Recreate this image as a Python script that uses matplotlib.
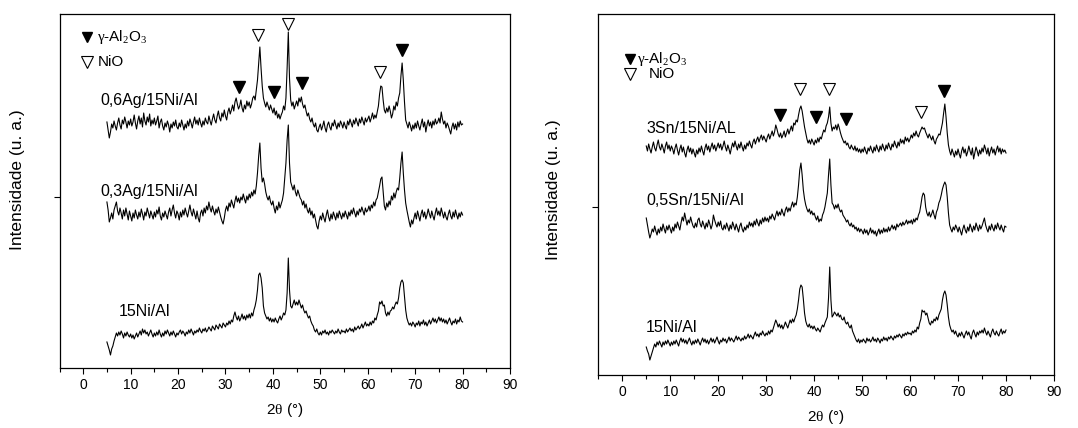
import numpy as np
import matplotlib
matplotlib.use("Agg")
import matplotlib.pyplot as plt
from matplotlib.ticker import MultipleLocator

plt.rcParams['font.family'] = ['Liberation Sans', 'DejaVu Sans']
plt.rcParams['mathtext.fontset'] = 'custom'
plt.rcParams['mathtext.rm'] = 'Liberation Serif'
plt.rcParams['mathtext.it'] = 'Liberation Serif:italic'

# 2theta grid shared by all patterns (degrees), 0.25 deg step
two_theta = np.arange(5.0, 80.001, 0.25)

# left panel: Ag promoted samples (intensity, arbitrary units incl. offset)
ag06 = [246, 238, 230, 236, 244, 240, 247, 242, 238, 245, 250, 243, 239, 248, 244, 251, 246, 240, 247, 243,
        249, 242, 246, 253, 245, 239, 247, 252, 244, 250, 241, 255, 247, 243, 251, 246, 254, 242, 248, 244,
        250, 243, 247, 252, 240, 246, 249, 242, 238, 245, 241, 247, 243, 236, 244, 240, 246, 242, 248, 241,
        239, 245, 241, 248, 243, 238, 244, 240, 247, 242, 249, 245, 240, 246, 251, 244, 248, 243, 250, 245,
        241, 247, 243, 250, 246, 244, 252, 247, 243, 249, 254, 248, 245, 252, 257, 250, 247, 255, 251, 258,
        252, 248, 256, 260, 254, 258, 263, 257, 266, 270, 264, 259, 262, 268, 260, 256, 263, 259, 267, 262,
        266, 260, 264, 270, 272, 268, 278, 288, 305, 321, 300, 282, 270, 265, 261, 266, 262, 258, 263, 259,
        255, 260, 253, 257, 250, 254, 249, 253, 256, 262, 258, 270, 300, 336, 290, 268, 262, 266, 259, 263,
        267, 262, 270, 266, 271, 264, 260, 263, 257, 252, 255, 249, 246, 250, 244, 241, 245, 238, 236, 241,
        244, 238, 242, 247, 240, 236, 243, 246, 241, 238, 245, 242, 248, 243, 239, 245, 241, 247, 244, 240,
        246, 242, 239, 247, 243, 249, 245, 241, 248, 244, 250, 246, 242, 249, 245, 251, 247, 243, 250, 246,
        249, 252, 246, 250, 255, 249, 253, 250, 256, 262, 274, 282, 281, 268, 258, 255, 260, 256, 262, 257,
        250, 254, 262, 258, 266, 262, 270, 275, 292, 305, 288, 266, 248, 244, 240, 246, 242, 237, 243, 239,
        245, 240, 247, 242, 238, 244, 249, 241, 246, 236, 243, 248, 242, 246, 240, 247, 243, 249, 244, 246,
        250, 245, 256, 249, 244, 247, 240, 245, 242, 238, 234, 241, 245, 239, 244, 238, 246, 241, 247, 243,
        244]
ag03 = [166, 158, 146, 150, 155, 149, 158, 162, 166, 157, 153, 160, 155, 149, 158, 152, 160, 154, 148, 157,
        152, 147, 155, 150, 158, 153, 149, 156, 151, 159, 154, 148, 156, 152, 160, 155, 150, 157, 153, 149,
        156, 151, 158, 154, 161, 152, 148, 155, 151, 157, 153, 149, 156, 160, 152, 158, 163, 155, 150, 157,
        154, 148, 156, 151, 158, 153, 160, 155, 151, 157, 163, 156, 152, 159, 154, 149, 157, 150, 146, 155,
        158, 152, 160, 155, 162, 158, 166, 160, 156, 162, 157, 153, 159, 155, 161, 156, 151, 147, 144, 150,
        158, 162, 157, 165, 161, 168, 164, 160, 167, 172, 166, 170, 165, 171, 168, 174, 169, 165, 172, 168,
        174, 170, 176, 172, 178, 174, 182, 195, 212, 225, 200, 186, 190, 184, 176, 171, 168, 172, 166, 163,
        167, 160, 155, 162, 158, 166, 160, 164, 168, 175, 190, 205, 228, 243, 205, 186, 182, 178, 183, 176,
        172, 178, 174, 170, 168, 163, 167, 160, 164, 158, 155, 160, 153, 157, 150, 154, 148, 142, 139, 147,
        152, 148, 155, 150, 146, 153, 158, 151, 147, 154, 149, 156, 152, 148, 155, 150, 157, 153, 149, 155,
        151, 157, 153, 149, 156, 152, 158, 154, 160, 155, 151, 157, 153, 159, 156, 161, 157, 153, 160, 156,
        158, 162, 157, 163, 160, 166, 162, 168, 170, 176, 182, 189, 191, 176, 162, 158, 165, 161, 167, 163,
        172, 168, 175, 170, 176, 180, 178, 190, 205, 216, 195, 178, 165, 158, 152, 146, 141, 148, 144, 150,
        155, 149, 157, 152, 147, 154, 158, 151, 156, 149, 153, 159, 154, 150, 157, 152, 148, 155, 160, 153,
        157, 152, 160, 155, 150, 156, 151, 148, 154, 158, 152, 149, 156, 151, 158, 153, 149, 155, 151, 156,
        153]
ni_left = [26, 22, 18, 13, 19, 22, 27, 31, 35, 32, 36, 33, 37, 34, 30, 35, 32, 36, 33, 31,
           34, 30, 33, 29, 32, 35, 31, 34, 37, 33, 39, 35, 38, 34, 36, 32, 35, 38, 34, 31,
           35, 32, 36, 33, 38, 34, 31, 35, 32, 37, 34, 38, 35, 32, 36, 33, 37, 34, 31, 35,
           33, 36, 38, 34, 37, 35, 32, 36, 34, 38, 35, 39, 36, 33, 37, 35, 38, 36, 40, 37,
           35, 39, 37, 40, 36, 38, 41, 39, 37, 42, 40, 38, 43, 41, 39, 44, 42, 40, 45, 43,
           41, 45, 43, 47, 44, 48, 46, 52, 56, 51, 48, 52, 47, 50, 54, 49, 52, 48, 53, 50,
           54, 50, 55, 52, 58, 62, 68, 78, 93, 95, 90, 80, 62, 55, 52, 49, 51, 47, 50, 46,
           49, 46, 50, 47, 45, 49, 52, 48, 51, 55, 53, 58, 75, 110, 78, 62, 60, 64, 68, 63,
           66, 63, 68, 64, 60, 63, 58, 55, 57, 53, 50, 52, 47, 44, 42, 38, 36, 39, 35, 33,
           36, 33, 37, 35, 38, 34, 36, 33, 37, 35, 38, 36, 34, 37, 35, 39, 36, 34, 38, 36,
           37, 35, 39, 36, 38, 40, 37, 39, 36, 41, 38, 40, 42, 39, 41, 44, 40, 43, 46, 42,
           44, 42, 46, 43, 47, 45, 50, 48, 53, 57, 66, 64, 67, 62, 63, 55, 52, 56, 53, 57,
           58, 61, 59, 63, 66, 64, 70, 80, 86, 88, 85, 72, 58, 50, 46, 43, 45, 42, 46, 44,
           41, 45, 43, 47, 42, 46, 44, 48, 43, 46, 42, 45, 48, 44, 47, 50, 46, 49, 45, 48,
           51, 47, 50, 46, 49, 45, 48, 44, 47, 50, 46, 43, 47, 45, 49, 44, 48, 46, 51, 47,
           46]

# right panel: Sn promoted samples
sn3 = [229, 224, 231, 226, 222, 228, 233, 227, 224, 230, 235, 228, 225, 231, 227, 222, 229, 233, 226, 230,
       224, 229, 226, 221, 227, 231, 225, 220, 226, 230, 223, 228, 222, 218, 225, 229, 223, 227, 221, 226,
       222, 218, 225, 221, 227, 223, 229, 224, 220, 227, 231, 225, 229, 223, 228, 232, 226, 230, 224, 228,
       232, 227, 231, 225, 229, 234, 228, 224, 230, 226, 221, 227, 232, 228, 234, 229, 225, 231, 227, 233,
       228, 224, 230, 226, 232, 229, 234, 230, 227, 233, 236, 231, 235, 238, 233, 237, 240, 235, 239, 236,
       233, 238, 241, 236, 240, 244, 239, 243, 250, 246, 241, 238, 242, 237, 240, 244, 238, 242, 246, 241,
       245, 249, 244, 252, 250, 255, 253, 260, 266, 269, 264, 256, 248, 242, 236, 232, 235, 231, 236, 233,
       230, 235, 232, 237, 233, 238, 236, 241, 245, 243, 249, 252, 258, 268, 252, 244, 248, 246, 250, 245,
       251, 247, 242, 238, 235, 232, 234, 230, 232, 228, 226, 230, 227, 225, 229, 224, 227, 223, 226, 222,
       226, 223, 228, 224, 221, 227, 224, 229, 225, 222, 228, 224, 230, 226, 223, 229, 225, 231, 227, 224,
       230, 226, 232, 228, 225, 231, 228, 234, 230, 227, 233, 229, 236, 232, 235, 231, 238, 234, 237, 233,
       236, 240, 237, 242, 239, 244, 240, 238, 242, 245, 248, 246, 247, 243, 240, 237, 241, 238, 235, 239,
       234, 231, 236, 238, 241, 240, 246, 252, 262, 271, 258, 242, 230, 224, 220, 226, 222, 218, 224, 220,
       226, 221, 217, 224, 228, 222, 226, 219, 223, 229, 224, 220, 227, 216, 222, 228, 224, 219, 225, 221,
       227, 223, 230, 226, 221, 227, 219, 224, 228, 222, 226, 220, 225, 229, 223, 227, 221, 226, 223, 225,
       222]
sn05 = [157, 150, 143, 137, 141, 146, 143, 149, 144, 140, 146, 142, 148, 144, 151, 146, 142, 149, 145, 150,
        146, 142, 148, 144, 151, 147, 153, 149, 145, 152, 158, 154, 162, 156, 150, 155, 152, 158, 153, 149,
        147, 152, 148, 155, 157, 151, 148, 154, 150, 146, 152, 148, 155, 151, 146, 150, 160, 155, 151, 148,
        153, 149, 154, 147, 145, 150, 146, 152, 148, 144, 150, 146, 153, 149, 145, 151, 147, 143, 149, 152,
        146, 143, 148, 145, 150, 147, 153, 149, 152, 148, 154, 150, 156, 152, 149, 155, 151, 157, 153, 158,
        154, 157, 153, 159, 156, 161, 158, 155, 160, 164, 159, 163, 160, 166, 162, 159, 165, 168, 163, 167,
        164, 169, 173, 168, 172, 170, 178, 190, 205, 212, 200, 185, 176, 170, 166, 163, 166, 161, 164, 160,
        162, 158, 155, 159, 153, 156, 154, 160, 163, 168, 175, 182, 200, 216, 190, 172, 170, 166, 170, 167,
        171, 166, 163, 165, 160, 158, 156, 153, 155, 151, 149, 152, 148, 150, 146, 148, 144, 147, 143, 146,
        144, 141, 146, 142, 145, 140, 143, 147, 142, 145, 141, 144, 139, 143, 146, 141, 145, 142, 147, 143,
        146, 143, 148, 144, 147, 150, 146, 149, 145, 151, 148, 150, 152, 149, 153, 150, 152, 155, 151, 154,
        152, 155, 151, 156, 153, 157, 155, 160, 163, 170, 178, 182, 180, 168, 162, 159, 163, 158, 161, 165,
        160, 156, 163, 166, 172, 175, 180, 186, 190, 193, 190, 178, 162, 150, 146, 143, 148, 145, 150, 147,
        143, 148, 144, 140, 146, 150, 145, 142, 148, 144, 151, 147, 143, 149, 145, 152, 148, 144, 150, 146,
        149, 153, 157, 150, 146, 143, 149, 145, 151, 147, 144, 150, 146, 152, 148, 145, 150, 146, 143, 149,
        148]
ni_right = [28, 24, 21, 15, 19, 23, 27, 31, 28, 33, 30, 34, 31, 28, 33, 30, 34, 31, 35, 32,
            29, 33, 30, 34, 31, 35, 32, 29, 34, 37, 33, 36, 32, 35, 31, 34, 37, 33, 30, 34,
            31, 35, 32, 36, 33, 30, 34, 37, 33, 36, 32, 35, 31, 34, 37, 33, 36, 32, 35, 38,
            34, 31, 35, 33, 37, 34, 36, 32, 35, 38, 34, 37, 35, 33, 36, 39, 35, 38, 36, 34,
            37, 35, 39, 36, 38, 41, 37, 40, 38, 36, 40, 43, 39, 41, 38, 42, 40, 44, 41, 39,
            42, 40, 44, 41, 45, 43, 47, 51, 55, 52, 48, 51, 47, 50, 46, 49, 53, 50, 47, 51,
            55, 52, 56, 53, 57, 60, 66, 75, 86, 90, 88, 76, 62, 54, 50, 48, 51, 47, 49, 46,
            49, 46, 44, 47, 45, 43, 47, 50, 48, 52, 55, 58, 77, 108, 75, 58, 60, 63, 61, 59,
            62, 58, 60, 56, 55, 58, 53, 51, 53, 49, 47, 50, 44, 41, 38, 35, 33, 36, 32, 35,
            33, 36, 34, 32, 37, 34, 36, 33, 35, 38, 34, 36, 33, 37, 35, 32, 36, 34, 38, 35,
            37, 34, 38, 36, 39, 37, 35, 39, 37, 40, 38, 41, 39, 37, 41, 39, 42, 40, 43, 41,
            42, 40, 44, 42, 45, 43, 48, 46, 52, 56, 65, 63, 64, 60, 62, 57, 52, 50, 54, 52,
            56, 54, 58, 55, 60, 63, 66, 75, 81, 84, 80, 70, 58, 50, 46, 43, 45, 41, 44, 40,
            38, 42, 39, 43, 40, 37, 41, 44, 40, 43, 39, 36, 42, 45, 41, 38, 43, 40, 44, 42,
            45, 42, 47, 43, 40, 44, 41, 38, 43, 46, 42, 40, 44, 41, 39, 43, 46, 41, 44, 42,
            45]

for name, s in [("ag06", ag06), ("ag03", ag03), ("ni_left", ni_left),
                ("sn3", sn3), ("sn05", sn05), ("ni_right", ni_right)]:
    assert len(s) == len(two_theta), (name, len(s))

left_labels = ["0,6Ag/15Ni/Al", "0,3Ag/15Ni/Al", "15Ni/Al"]
right_labels = ["3Sn/15Ni/AL", "0,5Sn/15Ni/Al", "15Ni/Al"]

# phase markers: (2theta, height) for gamma-Al2O3 (filled) and NiO (open)
left_al2o3 = ([32.9, 40.3, 46.1, 67.2], [281, 276, 285, 318])
left_nio = ([36.9, 43.1, 62.6], [333, 344, 296])
right_al2o3 = ([32.8, 40.3, 46.7, 67.1], [260, 258, 256, 284])
right_nio = ([37.0, 43.1, 62.3], [286, 286, 263])

fig = plt.figure(figsize=(10.78, 4.28), dpi=100)
ax1 = fig.add_axes([0.0552, 0.1402, 0.4179, 0.8271])
ax2 = fig.add_axes([0.5550, 0.1238, 0.4227, 0.8435])


def style_axis(ax, ytop, ytick, lab_x, lab_y):
    ax.set_xlim(-5, 90)
    ax.set_ylim(0, ytop)
    ax.xaxis.set_major_locator(MultipleLocator(10))
    ax.xaxis.set_minor_locator(MultipleLocator(5))
    ax.set_yticks([ytick])
    ax.set_yticklabels([])
    ax.tick_params(direction='out', length=4, width=0.8, labelsize=10)
    ax.tick_params(which='minor', direction='out', length=3, width=0.8)
    ax.set_xlabel(r"2$\mathrm{\theta}$ (°)", fontsize=11, labelpad=6)
    ax.set_ylabel("Intensidade (u. a.)", fontsize=12.5)
    ax.yaxis.set_label_coords(lab_x, lab_y)
    for sp in ax.spines.values():
        sp.set_linewidth(0.9)


for ax, series, al, nio, ytop, ytick, lx, ly in [
        (ax1, [ag06, ag03, ni_left], left_al2o3, left_nio, 354, 171, -0.077, 0.531),
        (ax2, [sn3, sn05, ni_right], right_al2o3, right_nio, 361, 168, -0.082, 0.512)]:
    for y in series:
        ax.plot(two_theta, y, color='black', linewidth=0.8)
    ax.plot(al[0], al[1], 'v', color='black', markersize=9, linestyle='none')
    ax.plot(nio[0], nio[1], 'v', markerfacecolor='white', markeredgecolor='black',
            markeredgewidth=0.8, markersize=9, linestyle='none')
    style_axis(ax, ytop, ytick, lx, ly)

# sample names
ax1.text(3.6, 267, left_labels[0], fontsize=11.5, va='center')
ax1.text(3.6, 176, left_labels[1], fontsize=11.5, va='center')
ax1.text(7.5, 56, left_labels[2], fontsize=11.5, va='center')
ax2.text(5.0, 247, right_labels[0], fontsize=11.5, va='center')
ax2.text(5.0, 175, right_labels[1], fontsize=11.5, va='center')
ax2.text(4.8, 48, right_labels[2], fontsize=11.5, va='center')

# phase legends: marker x, text x (gamma), text x (NiO), heights
gamma_lbl = r"$\mathrm{\gamma}$-Al$_2$O$_3$"
for ax, mx, tx1, tx2, y1, y2 in [(ax1, 0.9, 3.0, 3.0, 331, 306),
                                  (ax2, 1.6, 3.0, 5.6, 316, 301)]:
    ax.plot([mx], [y1], 'v', color='black', markersize=7.5)
    ax.plot([mx], [y2], 'v', markerfacecolor='white', markeredgecolor='black',
            markeredgewidth=0.8, markersize=8.5)
    ax.text(tx1, y1, gamma_lbl, fontsize=11, va='center')
    ax.text(tx2, y2, "NiO", fontsize=11, va='center')

fig.savefig("out.png", dpi=100)
